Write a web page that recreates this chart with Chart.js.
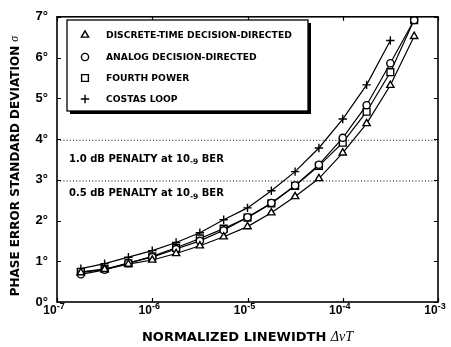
<!DOCTYPE html>
<html>
<head>
<meta charset="utf-8">
<script src="https://cdn.jsdelivr.net/npm/chart.js@4.4.1/dist/chart.umd.min.js"></script>
<style>
  html, body { margin: 0; padding: 0; background: #fff; }
  #wrap { width: 451px; height: 347px; }
</style>
</head>
<body>
<div id="wrap"><canvas id="c" width="451" height="347"></canvas></div>
<script>
// Normalized linewidth (quarter-decade steps)
const linewidth = [1.78e-7, 3.16e-7, 5.62e-7, 1.0e-6, 1.78e-6, 3.16e-6, 5.62e-6,
                   1.0e-5, 1.78e-5, 3.16e-5, 5.62e-5, 1.0e-4, 1.78e-4, 3.16e-4, 5.62e-4];

// Phase error standard deviation, degrees
const discreteTimeDD = [0.72, 0.80, 0.93, 1.03, 1.19, 1.38, 1.60, 1.85, 2.19, 2.59, 3.03, 3.66, 4.38, 5.32, 6.52];
const analogDD       = [0.68, 0.79, 0.96, 1.10, 1.30, 1.50, 1.76, 2.08, 2.43, 2.86, 3.37, 4.03, 4.83, 5.86, 6.92];
const fourthPower    = [0.74, 0.81, 0.95, 1.12, 1.33, 1.56, 1.80, 2.07, 2.42, 2.85, 3.34, 3.91, 4.67, 5.64, 6.92];
const costasLoop     = [0.82, 0.94, 1.10, 1.26, 1.46, 1.70, 2.02, 2.31, 2.73, 3.20, 3.78, 4.49, 5.33, 6.42];

const seriesNames = ['DISCRETE-TIME DECISION-DIRECTED', 'ANALOG DECISION-DIRECTED', 'FOURTH POWER', 'COSTAS LOOP'];

// SNR penalty thresholds (degrees) and their labels
const penaltyLevels = [3.97, 2.97];
const penaltyDb = ['1.0', '0.5'];

// Axis ticks
const xTickExponents = [-7, -6, -5, -4, -3];
const yTickValues = [0, 1, 2, 3, 4, 5, 6, 7];

// Marker styling per series
const markerStyle  = ['triangle', 'circle', 'rect', 'cross'];
const markerRadius = [4.2, 3.6, 4.8, 4.2];

const SANS = '"DejaVu Sans", sans-serif';
const ARIAL = '"Liberation Sans", Arial, sans-serif';
const SERIF = '"Liberation Serif", "DejaVu Serif", serif';

function seriesData(values) {
  return values.map((v, i) => ({ x: linewidth[i], y: v }));
}

const allSeries = [discreteTimeDD, analogDD, fourthPower, costasLoop];

const datasets = allSeries.map((vals, i) => ({
  label: seriesNames[i],
  data: seriesData(vals),
  borderColor: '#000',
  borderWidth: 1.2,
  tension: 0,
  pointStyle: markerStyle[i],
  pointRadius: markerRadius[i],
  pointBackgroundColor: '#fff',
  pointBorderColor: '#000',
  pointBorderWidth: 1.4,
  order: 1
}));

penaltyLevels.forEach((lvl, i) => {
  datasets.push({
    label: penaltyDb[i] + ' dB',
    data: [{ x: 1e-7, y: lvl }, { x: 1e-3, y: lvl }],
    borderColor: '#000',
    borderWidth: 1,
    borderDash: [1, 2.2],
    pointRadius: 0,
    tension: 0,
    order: 2
  });
});

const decorations = {
  id: 'decorations',
  afterDraw(chart) {
    const ctx = chart.ctx;
    const a = chart.chartArea;
    const xs = chart.scales.x, ys = chart.scales.y;
    ctx.save();

    // frame
    ctx.strokeStyle = '#000';
    ctx.lineWidth = 1.6;
    ctx.strokeRect(a.left, a.top, a.right - a.left, a.bottom - a.top);

    // inward tick marks
    ctx.lineWidth = 1.2;
    ctx.beginPath();
    xTickExponents.forEach(e => {
      const px = Math.round(xs.getPixelForValue(Math.pow(10, e))) + 0.5;
      ctx.moveTo(px, a.top); ctx.lineTo(px, a.top + 4);
      ctx.moveTo(px, a.bottom); ctx.lineTo(px, a.bottom - 4);
    });
    yTickValues.forEach(v => {
      const py = Math.round(ys.getPixelForValue(v)) + 0.5;
      ctx.moveTo(a.left, py); ctx.lineTo(a.left + 4, py);
      ctx.moveTo(a.right, py); ctx.lineTo(a.right - 4, py);
    });
    ctx.stroke();

    // x tick labels: 10 with superscript exponent
    ctx.fillStyle = '#000';
    ctx.textBaseline = 'alphabetic';
    ctx.textAlign = 'left';
    xTickExponents.forEach(e => {
      const px = xs.getPixelForValue(Math.pow(10, e));
      const base = '10';
      const ex = String(e);
      ctx.font = 'bold 12px ' + ARIAL;
      const wb = ctx.measureText(base).width;
      ctx.font = 'bold 9px ' + ARIAL;
      const we = ctx.measureText(ex).width;
      const x0 = px - 3 - (wb + we) / 2;
      ctx.font = 'bold 12px ' + ARIAL;
      ctx.fillText(base, x0, 314);
      ctx.font = 'bold 9px ' + ARIAL;
      ctx.fillText(ex, x0 + wb, 309);
    });

    // x axis title
    const t1 = 'NORMALIZED LINEWIDTH ';
    const t2 = '\u0394\u03BDT';
    ctx.font = 'italic 14px ' + SERIF;
    const w2 = ctx.measureText(t2).width;
    ctx.font = 'bold 13px ' + SANS;
    const w1 = ctx.measureText(t1).width;
    const sx = (a.left + a.right) / 2 - (w1 + w2) / 2;
    ctx.fillText(t1, sx, 341);
    ctx.font = 'italic 14px ' + SERIF;
    ctx.fillText(t2, sx + w1, 341);

    // y axis title
    ctx.save();
    ctx.translate(19, 166);
    ctx.rotate(-Math.PI / 2);
    const yt = 'PHASE ERROR STANDARD DEVIATION ';
    ctx.font = 'bold 12px ' + SANS;
    const wy = ctx.measureText(yt).width;
    ctx.font = 'italic 12px ' + SERIF;
    const ws = ctx.measureText('\u03C3').width;
    const y0 = -(wy + ws) / 2;
    ctx.font = 'bold 12px ' + SANS;
    ctx.fillText(yt, y0, 0);
    ctx.font = 'italic 12px ' + SERIF;
    ctx.fillText('\u03C3', y0 + wy, -1);
    ctx.restore();

    // penalty labels below each dotted threshold
    const offsets = [17.5, 11.5];
    penaltyLevels.forEach((lvl, i) => {
      const py = ys.getPixelForValue(lvl) + offsets[i] + 4;
      let x = 69;
      const s1 = penaltyDb[i] + ' dB PENALTY at 10';
      ctx.font = 'bold 10px ' + SANS;
      ctx.fillText(s1, x, py);
      x += ctx.measureText(s1).width;
      ctx.font = 'bold 7.5px ' + SANS;
      ctx.fillText('-9', x, py + 2.5);
      x += ctx.measureText('-9').width;
      ctx.font = 'bold 10px ' + SANS;
      ctx.fillText(' BER', x, py);
    });

    // legend box with drop shadow
    const lx = 67, ly = 20, lw = 241, lh = 91;
    ctx.fillStyle = '#000';
    ctx.fillRect(lx + 3, ly + 3, lw, lh);
    ctx.fillStyle = '#fff';
    ctx.fillRect(lx, ly, lw, lh);
    ctx.lineWidth = 1.3;
    ctx.strokeStyle = '#000';
    ctx.strokeRect(lx, ly, lw, lh);
    const rows = [35, 57, 78, 99];
    seriesNames.forEach((name, i) => {
      ctx.fillStyle = '#fff';
      ctx.strokeStyle = '#000';
      ctx.lineWidth = 1.4;
      Chart.helpers.drawPoint(ctx, {
        pointStyle: markerStyle[i],
        radius: markerRadius[i],
        rotation: 0,
        borderWidth: 1.4
      }, 85, rows[i]);
      ctx.fillStyle = '#000';
      ctx.font = 'bold 9.2px ' + SANS;
      ctx.textAlign = 'left';
      ctx.textBaseline = 'middle';
      ctx.fillText(name, 106, rows[i] + 0.5);
    });
    ctx.restore();
  }
};

Chart.register(decorations);

new Chart(document.getElementById('c'), {
  type: 'line',
  data: { datasets },
  options: {
    responsive: false,
    animation: false,
    devicePixelRatio: 1,
    layout: { padding: { top: 13, right: 13, left: 0, bottom: 0 } },
    plugins: { legend: { display: false }, tooltip: { enabled: false } },
    scales: {
      x: {
        type: 'logarithmic',
        min: 1e-7,
        max: 1e-3,
        grid: { display: false, drawTicks: false },
        border: { display: false },
        ticks: { display: false },
        afterFit(s) { s.height = 45; }
      },
      y: {
        type: 'linear',
        min: 0,
        max: 7,
        afterBuildTicks(s) { s.ticks = yTickValues.map(v => ({ value: v })); },
        grid: { display: false, drawTicks: false },
        border: { display: false },
        ticks: {
          color: '#000',
          padding: 9,
          font: { family: ARIAL, size: 13, weight: 'bold' },
          callback: v => v + '\u00B0'
        },
        afterFit(s) { s.width = 57; }
      }
    }
  }
});
</script>
</body>
</html>
